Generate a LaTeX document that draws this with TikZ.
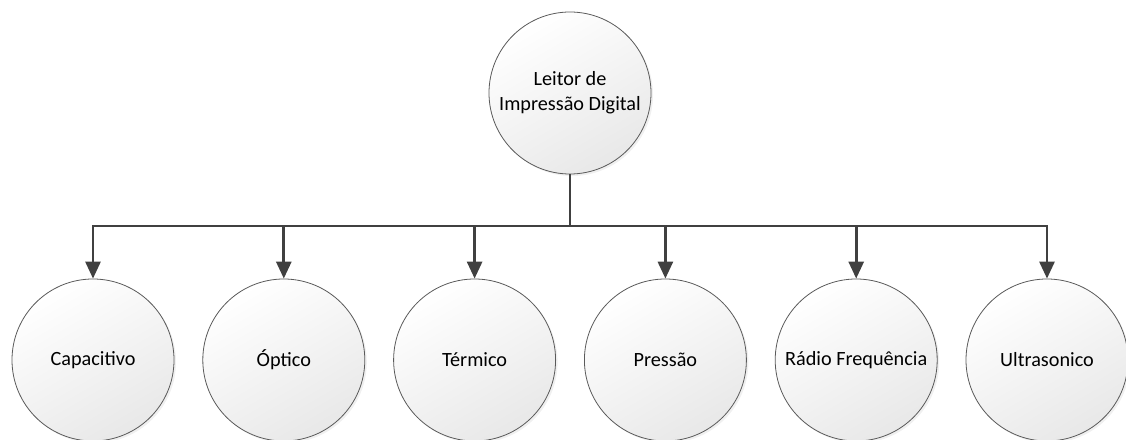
\documentclass[tikz,border=0pt]{standalone}
\usepackage{fontspec}
\setmainfont{Carlito}
\usetikzlibrary{arrows.meta,shadows}
\definecolor{conn}{HTML}{404040}
\definecolor{rim}{HTML}{5A5A5A}
\begin{document}
\begin{tikzpicture}[x=1bp,y=-1bp,
  bubble/.style={circle, draw=rim, line width=0.8bp, minimum size=162bp, inner sep=0pt,
    top color=white, bottom color=black!9, shading angle=30,
    drop shadow={opacity=0.12, shadow xshift=2bp, shadow yshift=-2bp},
    font=\fontsize{20.3}{25}\selectfont, align=center, text=black},
  link/.style={draw=conn, line width=2.8bp, -{Triangle[length=17bp,width=15bp]}},
  trunk/.style={draw=conn, line width=2.8bp}]
\useasboundingbox (0,0) rectangle (1126,440);
\node[bubble] (top) at (570,93) {Leitor de\\Impressão Digital};
\node[bubble] (c1) at (93,360) {Capacitivo};
\node[bubble] (c2) at (283.8,360) {Óptico};
\node[bubble] (c3) at (474.6,360) {Térmico};
\node[bubble] (c4) at (665.4,360) {Pressão};
\node[bubble] (c5) at (856.2,360) {Rádio Frequência};
\node[bubble] (c6) at (1047,360) {Ultrasonico};
\coordinate (hub) at (570,226);
\draw[trunk] (top.south) -- (hub);
\foreach \c in {c1,c2,c3,c4,c5,c6}{
  \draw[link] (hub) -| (\c.north);
}
\end{tikzpicture}
\end{document}
